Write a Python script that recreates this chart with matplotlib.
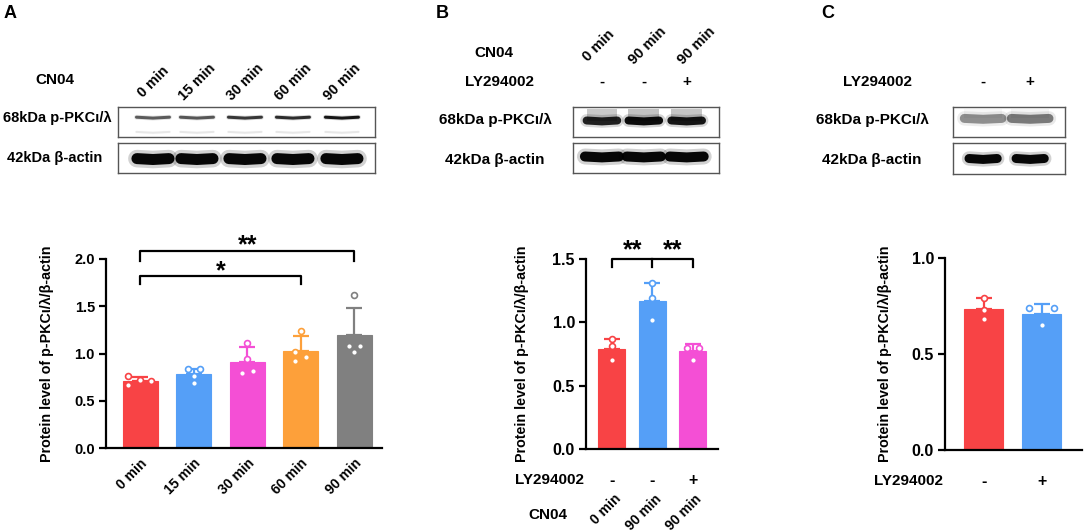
import numpy as np
import matplotlib
matplotlib.use('Agg')
import matplotlib.pyplot as plt
from matplotlib.ticker import FormatStrFormatter

plt.rcParams['font.family'] = ['Liberation Sans', 'DejaVu Sans']
plt.rcParams['font.weight'] = 'bold'
plt.rcParams['font.size'] = 10

W, H = 1084, 531

# ---------------- panel A data
a_groups = ['0 min', '15 min', '30 min', '60 min', '90 min']
a_means = [0.71, 0.78, 0.91, 1.03, 1.20]
a_sd = [0.04, 0.06, 0.16, 0.15, 0.28]
a_points = [[0.76, 0.72, 0.71, 0.67],
            [0.84, 0.84, 0.76, 0.69],
            [1.11, 0.94, 0.79, 0.82],
            [1.24, 1.02, 0.92, 0.96],
            [1.62, 1.08, 1.08, 1.02]]
a_jitter = [[-0.22, 0, 0.21, -0.22], [-0.11, 0.11, 0, 0], [0, 0, -0.1, 0.1],
            [0, -0.11, -0.11, 0.1], [0, -0.1, 0.1, 0]]
a_colors = ['#F84345', '#559FF7', '#F44FD5', '#FDA03A', '#808080']
a_pkc_shade = [0.60, 0.62, 0.75, 0.80, 0.90]
a_actin_shade = [0.97, 0.97, 0.97, 0.97, 0.97]

# ---------------- panel B data
b_cn04 = ['0 min', '90 min', '90 min']
b_ly = ['-', '-', '+']
b_means = [0.79, 1.17, 0.77]
b_sd = [0.08, 0.14, 0.06]
b_points = [[0.87, 0.81, 0.70], [1.31, 1.19, 1.02], [0.80, 0.80, 0.70]]
b_jitter = [[0, 0, 0], [0, 0, 0], [-0.15, 0.15, 0]]
b_colors = ['#F84345', '#559FF7', '#F44FD5']
b_pkc_shade = [0.85, 0.95, 0.90]
b_actin_shade = [0.97, 0.97, 0.97]

# ---------------- panel C data
c_ly = ['-', '+']
c_means = [0.735, 0.708]
c_sd = [0.055, 0.052]
c_points = [[0.79, 0.73, 0.68], [0.74, 0.74, 0.65]]
c_jitter = [[0, 0, 0], [-0.22, 0.21, 0]]
c_colors = ['#F84345', '#559FF7']
c_pkc_shade = [0.40, 0.48]
c_actin_shade = [0.97, 0.97]

ylab = 'Protein level of p-PKC\u03b9/\u03bb/\u03b2-actin'

fig = plt.figure(figsize=(W / 100, H / 100), dpi=100)


def ax_px(x0, y0, x1, y1):
    return fig.add_axes([x0 / W, 1 - y1 / H, (x1 - x0) / W, (y1 - y0) / H])


def ftext(x, y, s, **kw):
    fig.text(x / W, 1 - y / H, s, **kw)


def blot(x0, y0, x1, y1, lanes_x, xlim, bands, width, smear=0.0):
    # bands: list of (y centre, thickness px, shades per lane)
    ax = ax_px(x0, y0, x1, y1)
    ax.set_xlim(*xlim)
    ax.set_ylim(0, 1)
    ax.set_xticks([])
    ax.set_yticks([])
    for sp in ax.spines.values():
        sp.set_color('#555555')
        sp.set_linewidth(1.0)
    for yc, lw_px, shades in bands:
        for i, s in zip(lanes_x, shades):
            if smear > 0:
                ax.fill_between([i - width / 2, i + width / 2], yc, 0.95,
                                color='k', alpha=smear * s, lw=0)
            xs = [i - width / 2, i, i + width / 2]
            ys = [yc, yc - 0.03, yc]
            ax.plot(xs, ys, lw=lw_px * 1.6 * 0.72, color='k', alpha=0.18 * s,
                    solid_capstyle='round')
            ax.plot(xs, ys, lw=lw_px * 0.72, color='k', alpha=s,
                    solid_capstyle='round')
    return ax


def bar_panel(ax, means, sd, points, jitter, colors, ylim, yticks, width,
              tick_fs, label_x):
    x = np.arange(len(means))
    ax.bar(x, means, width=width, color=colors, edgecolor=colors, lw=0.8, zorder=2)
    for i in x:
        ax.errorbar(i, means[i], yerr=[[0], [sd[i]]], fmt='none', ecolor=colors[i],
                    elinewidth=1.6, capsize=6, capthick=1.6, zorder=1)
        ax.scatter(np.full(len(points[i]), i) + np.array(jitter[i]), points[i],
                   s=18, facecolor='white', edgecolor=colors[i], lw=1.2, zorder=4,
                   clip_on=False)
    ax.set_ylim(*ylim)
    ax.set_yticks(yticks)
    ax.yaxis.set_major_formatter(FormatStrFormatter('%.1f'))
    ax.spines['top'].set_visible(False)
    ax.spines['right'].set_visible(False)
    ax.spines['left'].set_linewidth(1.6)
    ax.spines['bottom'].set_linewidth(1.6)
    ax.tick_params(axis='y', width=1.6, length=5, labelsize=tick_fs, pad=3)
    ax.tick_params(axis='x', length=0)
    ax.set_ylabel(ylab, fontsize=10.3, fontweight='bold')
    ax.yaxis.set_label_coords(label_x, 0.5)


def bracket(ax, x0, x1, y, drop, mids=()):
    ax.plot([x0, x0, x1, x1], [y - drop, y, y, y - drop], color='k', lw=1.6, clip_on=False)
    for m in mids:
        ax.plot([m, m], [y, y - drop], color='k', lw=1.6, clip_on=False)


def stars(ax, x, y, s):
    ax.text(x, y, s, fontsize=18, ha='center', va='baseline', clip_on=False)


# ================= panel A
ftext(10, 13, 'A', fontsize=13, ha='center', va='center')
ftext(55, 80, 'CN04', fontsize=11, ha='center', va='center')
a_lane_px = [153, 197, 245, 293, 342]
for px, s in zip(a_lane_px, a_groups):
    ftext(px, 82, s, fontsize=10.3, rotation=45, ha='center', va='center')
ftext(57, 118, '68kDa p-PKC\u03b9/\u03bb', fontsize=10.5, ha='center', va='center')
ftext(55, 158, '42kDa \u03b2-actin', fontsize=10.5, ha='center', va='center')
a_lanes = [(p - 153) / 47.25 for p in a_lane_px]
blot(118, 107, 375, 137, a_lanes, (-0.74, 4.7),
     [(0.66, 3.0, a_pkc_shade), (0.17, 2.0, [0.08] * 5)], 0.7)
blot(118, 143, 375, 173, a_lanes, (-0.74, 4.7), [(0.48, 11, a_actin_shade)], 0.68)

axA = ax_px(106, 259, 382, 448)
bar_panel(axA, a_means, a_sd, a_points, a_jitter, a_colors, (0, 2.0),
          [0, 0.5, 1.0, 1.5, 2.0], 0.65, 10.5, -0.19)
axA.set_xlim(-0.64, 4.52)
axA.set_xticks(range(5))
axA.set_xticklabels(a_groups, rotation=45, ha='right', rotation_mode='anchor', fontsize=10)
axA.tick_params(axis='x', pad=6)
bracket(axA, 0, 4, 2.08, 0.1)
bracket(axA, 0, 3, 1.82, 0.08)
stars(axA, 2, 2.07, '**')
stars(axA, 1.5, 1.80, '*')

# ================= panel B
ftext(442, 13, 'B', fontsize=13, ha='center', va='center')
ftext(494, 53, 'CN04', fontsize=11, ha='center', va='center')
ftext(499, 82, 'LY294002', fontsize=11, ha='center', va='center')
b_lane_px = [602, 644, 687]
for px, s, off in zip(b_lane_px, b_cn04, [-3, 4, 10]):
    ftext(px + off, 46, s, fontsize=10.5, rotation=45, ha='center', va='center')
for px, s in zip(b_lane_px, b_ly):
    ftext(px, 82, s, fontsize=11, ha='center', va='center')
ftext(495, 120, '68kDa p-PKC\u03b9/\u03bb', fontsize=11, ha='center', va='center')
ftext(495, 160, '42kDa \u03b2-actin', fontsize=11, ha='center', va='center')
b_lanes = [(p - 602) / 42.7 for p in b_lane_px]
blot(573, 107, 719, 137, b_lanes, (-0.68, 2.75), [(0.55, 8, b_pkc_shade)], 0.72, smear=0.25)
blot(573, 143, 719, 173, b_lanes, (-0.68, 2.75), [(0.55, 10, b_actin_shade)], 0.8)

axB = ax_px(586, 259, 718, 449)
bar_panel(axB, b_means, b_sd, b_points, b_jitter, b_colors, (0, 1.5),
          [0, 0.5, 1.0, 1.5], 0.67, 11.5, -0.43)
axB.set_xlim(-0.64, 2.62)
axB.set_xticks(range(3))
axB.set_xticklabels(b_ly, fontsize=11.5)
axB.tick_params(axis='x', pad=17)
axB.annotate('LY294002', xy=(0, 0), xycoords='axes fraction', xytext=(-2, -31),
             textcoords='offset pixels', ha='right', va='center', fontsize=11)
axB.annotate('CN04', xy=(0, 0), xycoords='axes fraction', xytext=(-19, -66),
             textcoords='offset pixels', ha='right', va='center', fontsize=11)
for i, s in enumerate(b_cn04):
    axB.annotate(s, xy=(i, 0), xycoords=('data', 'axes fraction'), xytext=(2, -43),
                 textcoords='offset pixels', ha='right', va='top', rotation=45,
                 rotation_mode='anchor', fontsize=10)
bracket(axB, 0, 2, 1.5, 0.06, mids=[1])
stars(axB, 0.5, 1.515, '**')
stars(axB, 1.5, 1.515, '**')

# ================= panel C
ftext(828, 13, 'C', fontsize=13, ha='center', va='center')
ftext(878, 82, 'LY294002', fontsize=11, ha='center', va='center')
c_lane_px = [983, 1030]
for px, s in zip(c_lane_px, c_ly):
    ftext(px, 82, s, fontsize=11, ha='center', va='center')
ftext(872, 120, '68kDa p-PKC\u03b9/\u03bb', fontsize=11, ha='center', va='center')
ftext(872, 160, '42kDa \u03b2-actin', fontsize=11, ha='center', va='center')
c_lanes = [(p - 983) / 47.0 for p in c_lane_px]
blot(953, 107, 1065, 137, c_lanes, (-0.64, 1.74), [(0.62, 9, c_pkc_shade)], 0.8, smear=0.08)
blot(953, 143, 1065, 174, c_lanes, (-0.64, 1.74), [(0.5, 9, c_actin_shade)], 0.6)

axC = ax_px(945, 258, 1082, 450)
bar_panel(axC, c_means, c_sd, c_points, c_jitter, c_colors, (0, 1.0),
          [0, 0.5, 1.0], 0.67, 11.5, -0.39)
axC.set_xlim(-0.67, 1.69)
axC.set_xticks(range(2))
axC.set_xticklabels(c_ly, fontsize=11.5)
axC.tick_params(axis='x', pad=17)
axC.annotate('LY294002', xy=(0, 0), xycoords='axes fraction', xytext=(-2, -31),
             textcoords='offset pixels', ha='right', va='center', fontsize=11)

fig.savefig('out.png', dpi=100)
